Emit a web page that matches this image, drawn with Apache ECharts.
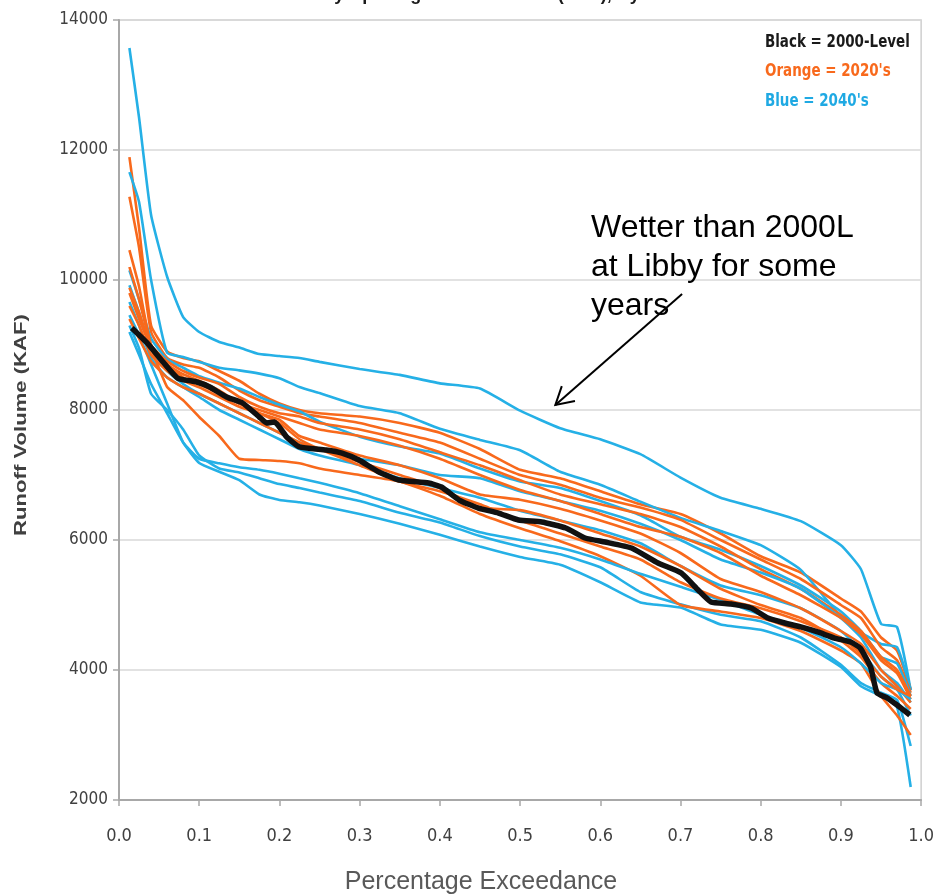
<!DOCTYPE html>
<html>
<head>
<meta charset="utf-8">
<script src="https://cdn.jsdelivr.net/npm/echarts@6/dist/echarts.min.js"></script>
<style>
html,body{margin:0;padding:0;background:#fff;}
#chart{width:937px;height:895px;}
</style>
</head>
<body>
<div id="chart"></div>
<script>
// ---- data ----
const exceedance = [0.013,0.025,0.04,0.06,0.08,0.1,0.125,0.15,0.175,0.2,0.225,0.25,0.3,0.35,0.4,0.45,0.5,0.55,0.6,0.65,0.7,0.75,0.8,0.85,0.9,0.925,0.95,0.97,0.987];

const blackExceed = [0.016,0.035,0.055,0.073,0.097,0.113,0.134,0.154,0.175,0.184,0.194,0.209,0.225,0.258,0.278,0.299,0.324,0.349,0.386,0.402,0.424,0.448,0.473,0.498,0.527,0.557,0.581,0.606,0.639,0.672,0.701,0.722,0.738,0.763,0.788,0.809,0.830,0.850,0.871,0.892,0.912,0.924,0.937,0.945,0.958,0.970,0.986];
const black2000Level = [9261,9031,8738,8492,8431,8354,8200,8108,7892,7800,7815,7585,7431,7385,7338,7231,7046,6923,6877,6815,6615,6492,6415,6308,6277,6185,6031,5969,5877,5646,5492,5231,5046,5015,4954,4800,4723,4662,4585,4492,4431,4338,4046,3646,3569,3462,3308];

const blue1 = [13570,12500,11000,10050,9430,9200,9046,8960,8860,8830,8800,8740,8630,8540,8410,8330,7990,7720,7550,7320,6960,6650,6480,6290,5920,5550,4710,4660,3690];
const blue2 = [11660,11200,10000,8880,8815,8740,8650,8610,8560,8490,8354,8260,8060,7950,7710,7540,7380,7050,6850,6590,6340,6140,5920,5540,4820,4580,4400,4350,3690];
const blue3 = [10150,9700,9100,8780,8650,8520,8420,8330,8200,8080,7980,7820,7590,7440,7330,7100,6900,6800,6600,6380,6050,5850,5600,5300,4900,4600,4200,4100,3600];
const blue4 = [9920,9500,8950,8600,8400,8250,8100,7950,7800,7650,7500,7400,7250,7150,7000,6950,6750,6600,6450,6250,6000,5700,5500,5250,4800,4500,4000,3800,3500];
const blue5 = [9660,9300,8800,8500,8350,8200,8000,7850,7700,7550,7400,7300,7150,6950,6800,6650,6450,6300,6150,5950,5600,5300,5150,4950,4600,4300,3900,3700,3300];
const blue6 = [9460,9150,8700,8100,7500,7185,7050,6920,6700,6615,6580,6530,6400,6250,6080,5900,5740,5620,5350,5040,4960,4700,4620,4420,4046,3750,3600,3430,2200];
const blue7 = [9300,8950,8250,8000,7700,7300,7100,7040,6950,6860,6800,6730,6600,6420,6270,6060,5900,5780,5580,5200,5010,4850,4750,4500,4080,3800,3650,3540,2830];
const blue8 = [9200,8850,8400,7950,7500,7250,7180,7120,7080,7020,6950,6880,6720,6520,6320,6120,6000,5880,5700,5480,5280,5080,4850,4650,4350,4100,3800,3700,3550];

const orange1 = [11890,10800,9300,8900,8800,8750,8600,8450,8250,8100,8000,7950,7900,7800,7650,7400,7080,6950,6750,6550,6400,6100,5750,5500,5100,4900,4500,4300,3700];
const orange2 = [11280,10500,9200,8800,8700,8650,8500,8300,8150,8050,7950,7900,7800,7650,7500,7250,7000,6850,6650,6500,6310,6000,5700,5400,5000,4800,4350,4150,3650];
const orange3 = [10460,9900,9000,8750,8600,8500,8400,8200,8050,7950,7900,7800,7700,7550,7350,7150,6920,6700,6550,6400,6200,5900,5550,5250,4850,4600,4200,4000,3600];
const orange4 = [9880,9500,8950,8700,8550,8450,8300,8100,8000,7900,7800,7700,7600,7450,7250,7000,6770,6600,6400,6200,6050,5800,5450,5150,4800,4550,4150,3950,3550];
const orange5 = [9600,9300,8850,8600,8450,8350,8200,8050,7950,7850,7600,7500,7300,7150,6950,6700,6620,6480,6300,6100,5800,5400,5200,4950,4600,4400,4000,3750,3500];
const orange6 = [9400,9100,8750,8500,8350,8250,8100,7950,7800,7650,7500,7400,7200,7000,6800,6500,6460,6300,6100,5900,5600,5250,5000,4800,4450,4200,3800,3600,3400];
const orange7 = [9800,9400,8950,8354,8150,7892,7600,7250,7231,7215,7180,7100,7000,6900,6680,6400,6180,5980,5750,5450,5000,4900,4800,4600,4300,4100,3600,3300,3000];
const orange8 = [10200,9700,9000,8700,8500,8400,8250,8100,7950,7800,7550,7400,7150,6900,6750,6550,6300,6100,5900,5700,5350,5100,4950,4750,4500,4250,3900,3700,3600];

const xTicks = ['0.0','0.1','0.2','0.3','0.4','0.5','0.6','0.7','0.8','0.9','1.0'];
const yTicks = [2000,4000,6000,8000,10000,12000,14000];

const chartTitle = 'Libby Apr-Aug Runoff Volume (KAF), Hybrid';
const legendLines = ['Black = 2000-Level', "Orange = 2020's", "Blue = 2040's"];
const noteLines = ['Wetter than 2000L', 'at Libby for some', 'years'];
const arrowFrom = [0.702, 9785];
const arrowTo = [0.544, 8077];

// ---- styling ----
const BLUE = '#25b0e6';
const ORANGE = '#f8691c';
const NARROW = "'Liberation Sans Narrow','DejaVu Sans Condensed','Liberation Sans',sans-serif";

function pairs(xs, ys){ return ys.map((v,i)=>[xs[i], v]); }
function lineSeries(name, xs, ys, color, width){
  return {
    name: name, type: 'line', data: pairs(xs, ys), symbol: 'none', smooth: 0.15,
    lineStyle: {color: color, width: width}, silent: true, animation: false
  };
}

const blues = [blue1,blue2,blue3,blue4,blue5,blue6,blue7,blue8];
const oranges = [orange1,orange2,orange3,orange4,orange5,orange6,orange7,orange8];
const series = [];
for (let i = 0; i < 8; i++) {
  series.push(lineSeries('2040s-' + (i+1), exceedance, blues[i], BLUE, 2.6));
  series.push(lineSeries('2020s-' + (i+1), exceedance, oranges[i], ORANGE, 2.6));
}
series.push(lineSeries('2000-Level', blackExceed, black2000Level, '#111111', 5.5));

const chart = echarts.init(document.getElementById('chart'), null, {renderer: 'canvas'});
const option = {
  animation: false,
  backgroundColor: '#ffffff',
  grid: {left: 119, right: 12, top: 20, bottom: 95, show: true, borderColor: '#cfcfcf', borderWidth: 1.5},
  xAxis: {
    type: 'value', min: 0, max: 1, interval: 0.1,
    axisLine: {show: true, lineStyle: {color: '#a8a8a8', width: 2}},
    axisTick: {show: true, length: 6, lineStyle: {color: '#a8a8a8', width: 1.5}},
    axisLabel: {margin: 27, fontFamily: NARROW, fontSize: 18, color: '#404040',
      formatter: v => xTicks[Math.round(v*10)]},
    splitLine: {show: false}
  },
  yAxis: {
    type: 'value', min: yTicks[0], max: yTicks[yTicks.length-1], interval: 2000,
    axisLine: {show: true, lineStyle: {color: '#a8a8a8', width: 2}},
    axisTick: {show: true, length: 6, lineStyle: {color: '#a8a8a8', width: 1.5}},
    axisLabel: {margin: 11, fontFamily: NARROW, fontSize: 17, color: '#404040',
      formatter: v => String(v)},
    splitLine: {show: true, lineStyle: {color: '#d9d9d9', width: 1.5}}
  },
  series: series
};
chart.setOption(option);

// ---- annotations & texts ----
const p1 = chart.convertToPixel({gridIndex: 0}, arrowFrom);
const p2 = chart.convertToPixel({gridIndex: 0}, arrowTo);
const back = Math.atan2(p1[1]-p2[1], p1[0]-p2[0]);
const headLen = 20, spread = 30*Math.PI/180;
const w1 = [p2[0] + headLen*Math.cos(back+spread), p2[1] + headLen*Math.sin(back+spread)];
const w2 = [p2[0] + headLen*Math.cos(back-spread), p2[1] + headLen*Math.sin(back-spread)];

const legendColors = ['#1a1a1a', ORANGE, '#1fa9e3'];
const legendY = [43, 72, 102];

const graphics = [
  {type: 'text', x: 485, y: -5, silent: true,
   style: {text: chartTitle, align: 'center', verticalAlign: 'middle', font: "bold 18px 'Liberation Sans', Arial, sans-serif", fill: '#1a1a1a'}},
  {type: 'text', x: 21, y: 425, rotation: Math.PI/2, scaleX: 1.3, silent: true,
   style: {text: 'Runoff Volume (KAF)', align: 'center', verticalAlign: 'middle', font: "bold 17px 'Liberation Sans', Arial, sans-serif", fill: '#404040'}},
  {type: 'text', x: 481, y: 882, silent: true,
   style: {text: 'Percentage Exceedance', align: 'center', verticalAlign: 'middle', font: "25px 'Liberation Sans', Arial, sans-serif", fill: '#595959'}},
  {type: 'text', x: 591, y: 209, silent: true,
   style: {text: noteLines.join('\n'), align: 'left', verticalAlign: 'top', font: "32px 'Liberation Sans', Arial, sans-serif", lineHeight: 39, fill: '#000000'}},
  {type: 'line', silent: true, shape: {x1: p1[0], y1: p1[1], x2: p2[0], y2: p2[1]}, style: {stroke: '#000', lineWidth: 2}},
  {type: 'polyline', silent: true, shape: {points: [w1, p2, w2]}, style: {stroke: '#000', lineWidth: 2, fill: null}}
];
legendLines.forEach((t, i) => {
  graphics.push({type: 'text', x: 765, y: legendY[i], scaleX: 0.88, silent: true,
    style: {text: t, align: 'left', verticalAlign: 'middle', font: "bold 17px " + NARROW, fill: legendColors[i]}});
});
chart.setOption({graphic: graphics});
</script>
</body>
</html>
